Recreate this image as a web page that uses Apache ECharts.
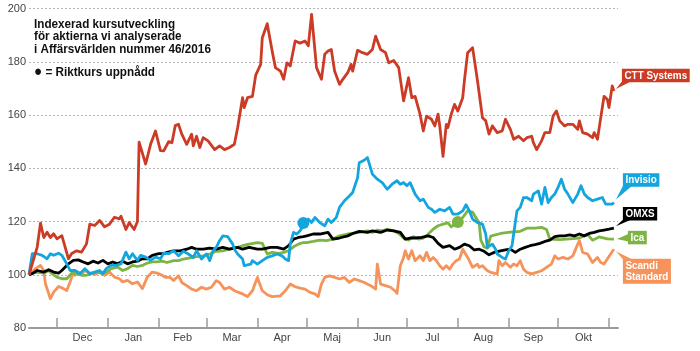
<!DOCTYPE html>
<html>
<head>
<meta charset="utf-8">
<script src="https://cdn.jsdelivr.net/npm/echarts@6/dist/echarts.min.js"></script>
<style>
  html, body { margin: 0; padding: 0; background: #fff; }
  #chart { width: 700px; height: 351px; }
</style>
</head>
<body>
<div id="chart"></div>
<script>
// [days since 2015-11-14, index value]
const cttData = [[0,100],[5,110.4],[7,119.4],[9,114],[11,116],[13,114],[15,115.4],[17,113.5],[20,114.7],[22,110.4],
  [24,106],[26,108],[29,109],[32,108.5],[35,111.6],[37,119],[40,118.5],[43,120.4],[46,118],[49,119],
  [52,121.6],[55,121],[56,122],[59,117],[61,119.6],[64,117],[66,120],[67,149.8],[71,141.6],[74,149],
  [77,154],[80,146.6],[82,146.5],[85,150],[87,149.6],[89,156],[91,156.5],[93,152.8],[96,149],[99,152.8],
  [100,148.4],[102,152],[104,147.8],[106,151.5],[109,150.3],[113,147],[116,148.4],[119,147],[122,147.8],[125,149],
  [127,155.3],[128,156],[130,166.5],[131,162.8],[133,166.5],[136,167],[138,175],[141,179],[142,189],[145,194.3],
  [148,184],[150,177.8],[153,176.5],[155,173.4],[157,179.6],[159,178.4],[162,187.8],[165,187],[168,187.8],[170,186],
  [172,197.8],[175,177.8],[178,173.4],[180,182.8],[182,184],[184,184.6],[186,176.5],[189,171.5],[191,173.4],[194,175.9],
  [196,179],[197,176.5],[200,184.3],[203,183.4],[206,182.8],[209,184.6],[211,189.6],[214,184.6],[217,183.4],[219,179.6],
  [222,180.5],[225,177.8],[228,165.3],[231,174],[233,166.5],[235,167],[238,160.3],[240,154],[242,159.6],[245,158.4],
  [247,155.9],[249,160.3],[250,155.9],[252,144.5],[254,156.5],[255,155.3],[257,160.3],[259,164],[261,161.5],[264,166.5],
  [265,172.8],[267,183.4],[270,185.3],[273,172.8],[276,159],[278,157.8],[280,152.8],[282,155.9],[285,153.4],[288,154],
  [290,158.4],[293,154.6],[295,150.9],[298,152],[301,150.3],[303,151.5],[306,152],[307,149.6],[309,147],[312,150.3],
  [314,153.4],[317,153.4],[319,159.6],[321,161.5],[323,157.8],[326,155.9],[328,156.5],[331,156.5],[334,154.6],[335,157.8],
  [337,153.4],[340,152.8],[343,151.5],[344,153.4],[346,150.9],[348,159],[350,167],[352,165.8],[353,162.8],[355,170.9],[356,169]];

const invisioData = [[0,100],[2,107.9],[5,107.9],[8,107.3],[11,106],[13,107.9],[15,107.3],[18,108.1],[20,107.3],[23,104.1],
  [25,101.6],[28,101.6],[31,100.4],[34,102.3],[37,100.4],[40,101],[43,101.6],[45,100.4],[47,102.3],[50,103.5],
  [53,103.5],[56,104.1],[59,108.5],[61,106],[63,107.9],[66,105.4],[68,107.3],[71,106.6],[74,105.4],[77,106.6],
  [80,106],[82,108.1],[85,107.9],[88,109],[91,107.1],[94,108.8],[97,107.8],[100,106.5],[102,109],[105,105.9],
  [108,107.8],[110,105.3],[112,109],[114,110.3],[116,112.8],[118,114.6],[121,114.3],[124,111.5],[125,109.6],[127,107.8],
  [130,105.9],[131,103.4],[135,104],[136,105.3],[139,104],[142,105.3],[145,106.5],[148,107.1],[151,107.8],[154,107.1],
  [156,105.9],[158,105.3],[159,111.5],[161,115.9],[163,115.3],[165,116.5],[167,118.5],[170,120.9],[172,119.6],[174,121.5],
  [177,119.6],[180,118.4],[182,120.9],[184,119.6],[187,121.5],[189,125.3],[192,127.8],[195,129.6],[197,130.9],[200,136.5],
  [201,142.1],[204,143],[206,144],[209,137.8],[212,135.9],[215,134.6],[218,132.1],[221,134],[224,135.3],[226,134],
  [228,134.6],[230,133.4],[232,134.6],[235,130.3],[238,127.8],[240,128.4],[243,125.3],[245,124.6],[247,123.4],[250,124.6],
  [253,124],[256,125.3],[258,122.8],[261,122.8],[264,124],[266,126.3],[268,124],[270,120.9],[273,119.6],[276,119],
  [278,115.3],[279,110.3],[282,111.5],[284,109.6],[285,107.8],[288,106.5],[290,105.9],[292,109],[294,110.9],[295,115.3],
  [297,124],[299,125.3],[301,129],[303,129],[306,127.8],[307,130.3],[310,131.5],[312,126.5],[314,132.8],[316,127.1],
  [318,129],[320,130.3],[322,132.8],[324,135.9],[326,132.1],[328,130.3],[331,127.1],[334,130.3],[336,133.4],[338,130.3],
  [340,129],[343,127.8],[346,128.4],[349,129],[351,126.5],[352,125.9],[355,126.5],[356,127.1]];

const omxsData = [[0,100],[2,100.4],[5,101.6],[9,101],[12,101.9],[15,101],[18,100.6],[20,101.6],[24,104.1],[27,105.4],
  [30,105.6],[33,104.8],[36,104.1],[39,105.1],[42,104.4],[45,105.4],[48,104.1],[51,104.8],[54,104.1],[57,105.1],
  [60,104.1],[63,104.8],[66,105.1],[69,106],[72,106],[75,107.3],[79,107.9],[82,107.9],[84,108.4],[88,109],
  [92,109],[96,109.6],[99,110.3],[102,109.6],[106,109.6],[110,110],[114,109.6],[118,110.3],[122,109.6],[127,110.3],
  [130,109.6],[134,110.3],[139,109.6],[142,109.6],[147,110.3],[151,110.3],[155,109.6],[158,110.9],[161,113.4],[164,114],
  [167,114.3],[169,114.6],[173,115.3],[177,115.3],[182,115.9],[185,113.4],[189,113.8],[194,114.6],[197,115.5],[201,116.3],
  [206,115.9],[209,116.5],[214,115.9],[218,116.8],[222,116.5],[226,115.9],[229,113.4],[232,113.8],[235,113.8],[239,114],
  [243,114.6],[246,114],[249,111.8],[252,110.3],[256,110.9],[259,109.6],[262,110.3],[265,111.5],[268,110.9],[271,109.3],
  [274,109.6],[277,108.8],[280,107.5],[283,108.4],[287,109],[290,109.3],[293,109.6],[296,108.4],[299,109.6],[302,110.3],
  [305,110.9],[308,111.3],[311,111.8],[314,112.5],[317,113],[320,114.3],[323,114.6],[326,114.6],[329,115],[332,114.6],
  [335,115.3],[338,114.6],[341,115.5],[344,115.9],[347,116.5],[350,116.8],[353,117.1],[356,117.5]];

const icaData = [[0,100],[2,100.6],[5,101],[9,100.6],[12,101.6],[14,100.4],[17,99.1],[20,98.5],[23,98.5],[26,100.6],
  [29,100.4],[32,99.8],[35,99.8],[38,100.4],[41,101],[44,100.6],[47,101],[50,102.3],[54,102.9],[57,101.6],
  [60,102.3],[63,103.5],[66,103.1],[69,103.5],[72,104.4],[75,104.8],[78,104.8],[81,105.1],[84,104.6],[88,105.3],
  [91,105.3],[94,105.9],[98,106.3],[102,106.8],[106,107.1],[110,107.8],[114,108.8],[118,109],[122,109.6],[127,110.3],
  [130,110.9],[134,111.5],[139,112.1],[142,111.8],[145,107.8],[148,108.4],[152,108],[155,108.4],[158,109],[161,110.5],
  [164,111.5],[167,112.1],[169,112.1],[173,112.5],[177,113],[181,112.8],[185,113.4],[189,114.6],[194,115.3],[197,115.5],
  [201,115.9],[206,116.5],[209,115.9],[212,116.8],[215,116.5],[218,117.1],[222,116.5],[225,115.5],[228,113.8],[231,113],
  [234,114.3],[237,113.4],[240,113.8],[243,115.3],[246,117.1],[249,118.4],[252,119],[255,119.5],[257,118],[261,120],
  [264,121.5],[267,124],[270,123.5],[273,120.5],[274,119.5],[275,113],[277,110.5],[279,110],[281,114.5],[287,115.5],
  [293,116],[299,116.3],[303,117.5],[308,117.5],[312,117.8],[315,117],[317,113.4],[323,113.2],[329,113.5],[335,113.8],
  [340,115.2],[343,113],[347,114.2],[352,113.5],[356,113.4]];

const scandiData = [[0,100],[4,102.3],[7,103.5],[9,101.6],[10,96.6],[12,92.9],[13,91],[15,93.5],[18,95.6],[21,94.8],
  [23,94.1],[25,97.3],[27,101],[28,99.8],[30,101],[32,100.1],[34,101.6],[37,100.6],[40,100.1],[43,101],
  [46,99.8],[49,101],[52,99.1],[55,98.5],[57,97.3],[60,97.9],[63,96.6],[66,97.3],[69,94.8],[72,99.1],
  [75,101],[78,100.6],[81,99.8],[83,99],[86,99],[88,97.8],[91,99.6],[93,97.1],[96,95.9],[99,94.6],
  [102,94],[105,95.3],[108,94.6],[111,95.3],[114,97.8],[116,97.1],[119,94.6],[122,95.3],[125,94],[130,92.8],
  [133,91.8],[136,94],[139,99],[142,94],[145,92.5],[148,91.8],[153,92.1],[156,94],[159,96.5],[162,95.5],
  [165,95],[168,94.6],[171,93.4],[174,92.8],[176,91.8],[178,96.5],[180,99],[183,99.6],[186,99],[189,98.4],
  [192,99],[195,97.1],[198,98.4],[201,97.8],[204,97.1],[208,95.9],[209,96.5],[211,94.6],[212,104],[214,96.5],
  [217,95.9],[220,95.3],[223,93.8],[224,93],[226,103.4],[228,106.5],[229,109],[231,105.9],[233,109],[235,105.3],
  [238,107.1],[240,105.3],[242,108.4],[244,105.3],[246,106.5],[248,105.3],[250,103.4],[252,102.1],[254,103.4],[256,102.1],
  [258,104],[260,105.3],[262,105.9],[264,109.6],[267,106.5],[268,105.3],[270,102.8],[273,104],[274,102.8],[276,103.4],
  [279,101.5],[281,100.9],[282,100.3],[285,100.3],[286,105.3],[288,103.4],[290,104.6],[293,102.8],[295,104],[297,103.4],
  [299,105.3],[301,102.1],[303,100.9],[306,100.3],[309,100.9],[312,101.5],[315,102.8],[318,104],[320,107.1],[322,105.9],
  [325,106.5],[328,105.9],[331,107.1],[334,111.5],[335,112.8],[337,108.4],[340,107.8],[341,107.1],[343,104.6],[346,106.5],
  [348,104.6],[350,104],[352,105.9],[354,107.8],[356,109.6]];

// riktkurs uppnådd: [day, value]
const invisioTarget = [167, 119.4];
const icaTarget = [261, 119.8];

const monthNames = ['Jan', 'Feb', 'Mar', 'Apr', 'Maj', 'Jun', 'Jul', 'Aug', 'Sep', 'Okt', 'Nov', 'Dec'];
const titleLines = ['Indexerad kursutveckling', 'för aktierna vi analyserade', 'i Affärsvärlden nummer 46/2016'];
const keyText = ' = Riktkurs uppnådd';

const DAY = 86400000;
const START = Date.UTC(2015, 10, 14);
const toDay = (t) => (t - START) / DAY;

const FONT = "'Liberation Sans', Arial, sans-serif";
const NARROW = 0.86; // squeeze to imitate the condensed newspaper face

// month boundaries (ticks) and mid-months (labels), in days from START
const monthStarts = [toDay(Date.UTC(2015, 11, 1))];
for (let m = 0; m <= 10; m++) monthStarts.push(toDay(Date.UTC(2016, m, 1)));
const monthMids = monthStarts.slice(0, -1).map((d, i) => (d + monthStarts[i + 1]) / 2);

// label box: offset of box left/centre from the line end; tail polygon relative to line end
const lines = [
  { name: 'Scandi Standard', label: 'Scandi\nStandard', data: scandiData, color: '#f5935a',
    box: [9, 22], tail: [[2, 2], [9, 10], [18, 10]] },
  { name: 'Ica', label: 'Ica', data: icaData, color: '#7db443', target: icaTarget,
    box: [14, -1.5], tail: [[3, 0], [14.5, -5], [14.5, 2.5]] },
  { name: 'OMXS', label: 'OMXS', data: omxsData, color: '#000000',
    box: [9, -14.5], tail: [[2, -2], [9, -8.5], [17, -8.5]] },
  { name: 'Invisio', label: 'Invisio', data: invisioData, color: '#13a5de', target: invisioTarget,
    box: [9, -22.5], tail: [[2, -3], [9, -16.5], [18, -16.5]] },
  { name: 'CTT Systems', label: 'CTT Systems', data: cttData, color: '#cc3b26',
    box: [8, -15.5], tail: [[2, -2], [8, -9.5], [17, -9.5]] }
];

const chart = echarts.init(document.getElementById('chart'), null, { renderer: 'canvas' });

chart.setOption({
  animation: false,
  backgroundColor: '#fff',
  grid: { left: 29, right: 82, top: 8.5, bottom: 23, containLabel: false },
  xAxis: {
    type: 'value',
    min: 0,
    max: 358.5,
    splitLine: { show: false },
    axisLine: { lineStyle: { color: '#9a9a9a', width: 2 } },
    axisTick: { show: true, inside: true, length: 10, customValues: monthStarts, lineStyle: { color: '#9a9a9a', width: 1.5 } },
    axisLabel: {
      customValues: monthMids,
      formatter: (v) => monthNames[new Date(START + v * DAY).getUTCMonth()],
      color: '#444', fontSize: 11, fontFamily: FONT, margin: 4
    }
  },
  yAxis: {
    type: 'value',
    min: 80, max: 200, interval: 20,
    axisLine: { show: false },
    axisTick: { show: false },
    axisLabel: { color: '#444', fontSize: 11, fontFamily: FONT, margin: 3 },
    splitLine: { lineStyle: { color: '#b5b5b5', type: [2, 2], width: 1 } }
  },
  series: lines.map((s) => ({
    name: s.name,
    type: 'line',
    data: s.data,
    showSymbol: false,
    symbol: 'none',
    lineStyle: { color: s.color, width: 2.8, join: 'round' },
    itemStyle: { color: s.color },
    markPoint: s.target ? {
      symbol: 'circle',
      symbolSize: 12,
      label: { show: false },
      itemStyle: { color: s.color },
      data: [{ coord: s.target }]
    } : undefined
  }))
});

const graphic = [
  {
    type: 'text', left: 34, top: 17.5, scaleX: 0.9,
    style: { text: titleLines.join('\n'), fill: '#111', font: `bold 13px ${FONT}`, lineHeight: 12.5 }
  },
  {
    type: 'text', left: 34, top: 64.5, scaleX: 0.9,
    style: {
      text: '{dot|●}' + keyText,
      fill: '#111', font: `bold 13px ${FONT}`, lineHeight: 13,
      rich: { dot: { fontSize: 15, fontWeight: 'bold', fill: '#111', lineHeight: 13 } }
    }
  }
];

// name boxes with pointer tails at the line ends
lines.forEach((s) => {
  const last = s.data[s.data.length - 1];
  const p = chart.convertToPixel({ gridIndex: 0 }, last);
  graphic.push({
    type: 'polygon',
    shape: { points: s.tail.map(([dx, dy]) => [p[0] + dx, p[1] + dy]) },
    style: { fill: s.color }
  });
  graphic.push({
    type: 'text',
    x: p[0] + s.box[0],
    y: p[1] + s.box[1],
    scaleX: NARROW,
    style: {
      text: s.label,
      fill: '#fff',
      font: `bold 11.5px ${FONT}`,
      lineHeight: 11.5,
      align: 'left',
      verticalAlign: 'middle',
      backgroundColor: s.color,
      padding: [1, 3]
    }
  });
});
chart.setOption({ graphic });
</script>
</body>
</html>
